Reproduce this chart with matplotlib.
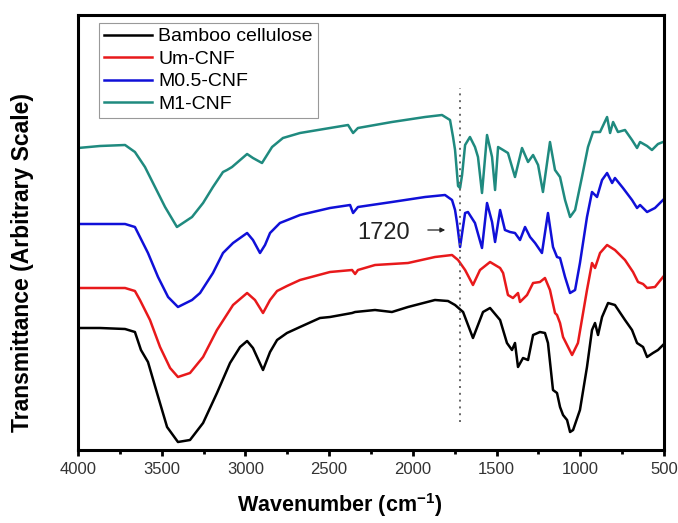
import matplotlib
matplotlib.use('Agg')
import matplotlib.pyplot as plt
import numpy as np
from matplotlib.ticker import MultipleLocator

plt.rcParams['font.family'] = ['Liberation Sans', 'DejaVu Sans']
plt.rcParams['mathtext.fontset'] = 'custom'
plt.rcParams['mathtext.bf'] = 'Liberation Sans:bold'
plt.rcParams['mathtext.rm'] = 'Liberation Sans:bold'
plt.rcParams['mathtext.default'] = 'bf'

# wavenumber (cm-1) and transmittance (arbitrary, offset)
wn_bamboo = [4000, 3869, 3719, 3660, 3624, 3582, 3528, 3468, 3403, 3331, 3253, 3170, 3092, 3032,
             2990, 2955, 2895, 2853, 2811, 2752, 2674, 2555, 2495, 2363, 2345, 2226, 2125, 2029,
             1868, 1790, 1748, 1700, 1641, 1581, 1539, 1479, 1438, 1408, 1390, 1372, 1342, 1312,
             1282, 1241, 1211, 1193, 1163, 1139, 1121, 1103, 1079, 1061, 1043, 1002, 960, 930,
             912, 894, 870, 834, 793, 733, 691, 661, 625, 601, 566, 536, 506]
t_bamboo = [122, 122, 121, 118, 100, 88, 57, 23, 8, 10, 27, 57, 87, 103,
            109, 102, 80, 98, 110, 117, 123, 132, 133, 137, 138, 140, 138, 143,
            150, 149, 145, 138, 112, 138, 142, 130, 107, 100, 107, 83, 92, 90,
            115, 118, 117, 107, 60, 57, 43, 35, 30, 18, 20, 40, 83, 120,
            127, 115, 133, 147, 145, 130, 120, 107, 103, 93, 97, 100, 105]

wn_um = [4000, 3719, 3660, 3630, 3570, 3510, 3450, 3403, 3331, 3253, 3170, 3074, 2990, 2943,
         2895, 2853, 2811, 2752, 2674, 2495, 2363, 2345, 2328, 2226, 2029, 1868, 1766, 1730,
         1688, 1641, 1599, 1539, 1479, 1461, 1432, 1402, 1372, 1360, 1318, 1282, 1241, 1211,
         1181, 1151, 1139, 1121, 1103, 1079, 1049, 1014, 960, 930, 912, 882, 840, 793,
         733, 685, 655, 625, 601, 554, 506]
t_um = [162, 162, 159, 150, 130, 103, 82, 73, 77, 93, 120, 145, 157, 150,
        137, 150, 159, 164, 170, 178, 180, 176, 180, 185, 187, 193, 195, 190,
        180, 165, 180, 188, 182, 177, 155, 152, 157, 148, 155, 167, 168, 172,
        160, 137, 135, 127, 113, 105, 95, 107, 160, 187, 182, 197, 205, 200,
        190, 178, 168, 166, 162, 163, 173]

wn_m05 = [4000, 3719, 3660, 3582, 3522, 3462, 3403, 3319, 3271, 3194, 3134, 3074, 2990, 2955,
          2913, 2883, 2853, 2794, 2674, 2495, 2375, 2357, 2328, 2125, 1927, 1808, 1766, 1748,
          1736, 1718, 1688, 1671, 1629, 1587, 1557, 1527, 1509, 1479, 1450, 1420, 1390, 1360,
          1330, 1300, 1270, 1229, 1193, 1163, 1139, 1121, 1091, 1061, 1031, 1002, 960, 930,
          900, 870, 840, 810, 793, 745, 691, 661, 643, 601, 554, 506]
t_m05 = [226, 226, 223, 197, 173, 153, 143, 150, 157, 177, 197, 207, 217, 210,
         197, 205, 217, 227, 235, 242, 245, 237, 243, 248, 253, 255, 250, 240,
         227, 203, 237, 238, 227, 202, 247, 228, 208, 240, 220, 218, 217, 210,
         223, 213, 207, 197, 237, 203, 193, 192, 173, 157, 160, 187, 233, 258,
         253, 270, 277, 267, 272, 262, 250, 242, 245, 238, 242, 250]

wn_m1 = [4000, 3869, 3719, 3660, 3600, 3540, 3480, 3409, 3319, 3253, 3194, 3134, 3110, 3080,
         2990, 2955, 2901, 2841, 2776, 2674, 2495, 2387, 2357, 2328, 2125, 1927, 1826, 1778,
         1760, 1748, 1730, 1718, 1706, 1688, 1659, 1629, 1611, 1587, 1557, 1527, 1509, 1491,
         1461, 1432, 1390, 1348, 1312, 1282, 1252, 1223, 1181, 1151, 1121, 1091, 1061, 1031,
         990, 954, 924, 882, 840, 822, 804, 775, 733, 691, 661, 643, 601, 572, 536, 506]
t_m1 = [302, 304, 305, 298, 283, 263, 243, 223, 233, 247, 263, 278, 280, 283,
        296, 292, 287, 303, 312, 317, 322, 325, 317, 322, 328, 333, 335, 330,
        313, 300, 264, 262, 275, 305, 313, 303, 293, 257, 315, 293, 260, 303,
        300, 297, 273, 302, 288, 295, 285, 258, 308, 280, 273, 250, 233, 240,
        273, 303, 318, 318, 333, 317, 328, 318, 320, 310, 302, 308, 304, 300, 306, 308]

labels = ['Bamboo cellulose', 'Um-CNF', 'M0.5-CNF', 'M1-CNF']
colors = ['black', '#e8191b', '#1010d8', '#1f8a7f']
peak_wn = 1720

fig = plt.figure(figsize=(6.78, 5.23), dpi=100)
ax = fig.add_axes([78 / 678, 1 - 450 / 523, 586 / 678, 435 / 523])

series = [(wn_bamboo, t_bamboo), (wn_um, t_um), (wn_m05, t_m05), (wn_m1, t_m1)]
for (wn, t), lab, c in zip(series, labels, colors):
    ax.plot(wn, t, color=c, lw=1.8, label=lab, solid_joinstyle='round')

# dotted guide at the carbonyl band
ax.plot([peak_wn, peak_wn], [28, 362], color='#666666', lw=1.4, linestyle=(0, (1, 2.5)))
ax.annotate('', xy=(1790, 220), xytext=(1927, 220),
            arrowprops=dict(arrowstyle='-|>', color='#222222', lw=0.9, mutation_scale=7))
ax.text(2172, 217, str(peak_wn), fontsize=17, ha='center', va='center', color='#222222')

ax.set_xlim(4000, 500)
ax.set_ylim(0, 435)
ax.xaxis.set_major_locator(MultipleLocator(500))
ax.xaxis.set_minor_locator(MultipleLocator(250))
ax.tick_params(axis='x', which='major', direction='out', length=4, width=2,
               labelsize=12, labelcolor='#333333', pad=5)
ax.tick_params(axis='x', which='minor', direction='out', length=3, width=2)
ax.set_yticks([])
for sp in ax.spines.values():
    sp.set_linewidth(2.2)

ax.set_xlabel('Wavenumber (cm$^{-1}$)', fontsize=15.5, fontweight='bold', va='center')
ax.xaxis.set_label_coords((340 - 78) / 586, -(505 - 450) / 435)
ax.set_ylabel('Transmittance (Arbitrary Scale)', fontsize=16.5, fontweight='bold')
ax.yaxis.set_label_coords((34 - 78) / 586, (450 - 262) / 435)

leg = ax.legend(loc='upper left', bbox_to_anchor=((99 - 78) / 586, (450 - 23) / 435),
                borderaxespad=0, fontsize=14, handlelength=2.5, handletextpad=0.3,
                labelspacing=0.25, borderpad=0.25, fancybox=False, framealpha=1)
leg.get_frame().set_edgecolor('#999999')
leg.get_frame().set_linewidth(0.8)

fig.savefig('out.png', dpi=100)
